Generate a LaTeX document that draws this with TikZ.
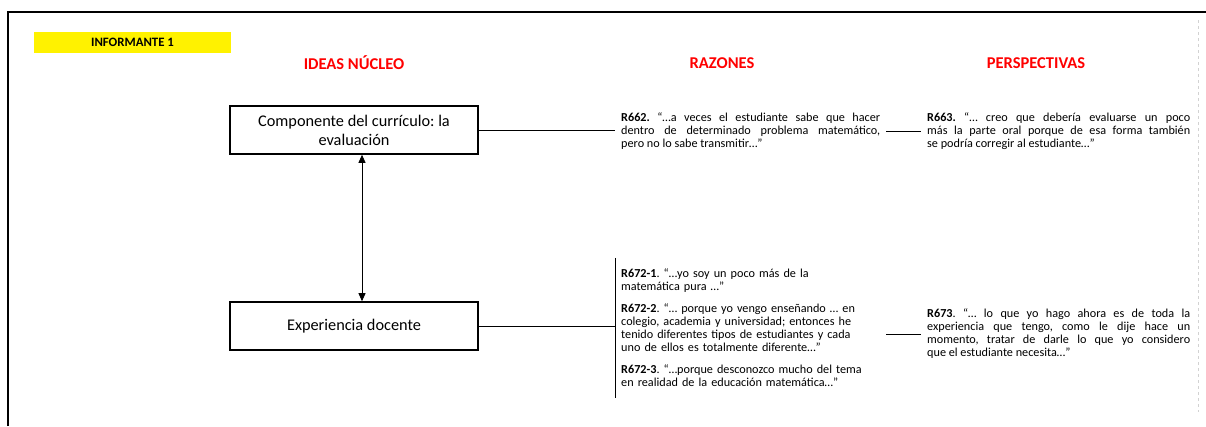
\documentclass[tikz,border=0pt]{standalone}
\usepackage{fontspec}
\setmainfont{Carlito}
\usetikzlibrary{arrows.meta, positioning}
\frenchspacing

\begin{document}
\begin{tikzpicture}[x=1pt, y=-1pt,
                    idea/.style={rectangle, draw, line width=1.6pt, minimum width=248pt, minimum height=48pt, align=center, font=\fontsize{16.3}{19}\selectfont},
                    heading/.style={font=\fontsize{16.5}{19}\selectfont\bfseries, text=red},
                    quote/.style={text width=259pt, align=justify, inner xsep=6pt, inner ysep=0pt, font=\fontsize{12.2}{13}\selectfont},
                    link/.style={line width=0.8pt},
                    both/.style={{Triangle[length=8pt,width=7pt]}-{Triangle[length=8pt,width=7pt]}, line width=0.8pt}
                ]
                \useasboundingbox (0,0) rectangle (1206,426);
                \draw[line width=2pt] (8,426) -- (8,12) -- (1206,12);
                \draw[gray!35, dashed] (1198,20) -- (1198,412);

                \node[fill=yellow, minimum width=197pt, minimum height=21pt, font=\fontsize{12.8}{14}\selectfont\bfseries] (inf) at (132.5,42.5) {INFORMANTE 1};
                \node[heading] (ideas) at (354,63) {IDEAS NÚCLEO};
                \node[heading] (razones) at (722,63) {RAZONES};
                \node[heading] (persp) at (1036,63) {PERSPECTIVAS};

                \node[idea] (curr) at (354,130) {Componente del currículo: la\\evaluación};
                \node[idea] (docente) at (354,326) {Experiencia docente};

                \node[quote, anchor=west] (r662) at (615,131) {\textbf{R662.} “…a veces el estudiante sabe que hacer\linebreak dentro de determinado problema matemático,\linebreak pero no lo sabe transmitir…”};
                \node[quote, text width=263pt, anchor=west] (r663) at (921,131) {\textbf{R663.} “… creo que debería evaluarse un poco\linebreak más la parte oral porque de esa forma también\linebreak se podría corregir al estudiante…”};
                \node[quote, align=left, minimum height=140pt, anchor=west] (r672) at (615,328) {\textbf{R672-1}. “…yo soy un poco más de la\\matemática pura …”\\[9pt]
                  \textbf{R672-2}. “… porque yo vengo enseñando … en\\colegio, academia y universidad; entonces he\\tenido diferentes tipos de estudiantes y cada\\uno de ellos es totalmente diferente…”\\[9pt]
                  \textbf{R672-3}. “…porque desconozco mucho del tema\\en realidad de la educación matemática…”};
                \node[quote, text width=263pt, anchor=west] (r673) at (921,334) {\textbf{R673}. “… lo que yo hago ahora es de toda la\linebreak experiencia que tengo, como le dije hace un\linebreak momento, tratar de darle lo que yo considero\linebreak que el estudiante necesita…”};

                \draw[both] ([xshift=8pt]curr.south) -- ([xshift=8pt]docente.north);
                \draw[link] (curr.east) -- (curr.east -| r662.west);
                \draw[link] (r662.east) -- (r663.west);
                \draw[link] (r672.north west) -- (r672.south west);
                \draw[link] (docente.east) -- (docente.east -| r672.west);
                \draw[link] (r673.west -| r672.east) -- (r673.west);
\end{tikzpicture}
\end{document}
